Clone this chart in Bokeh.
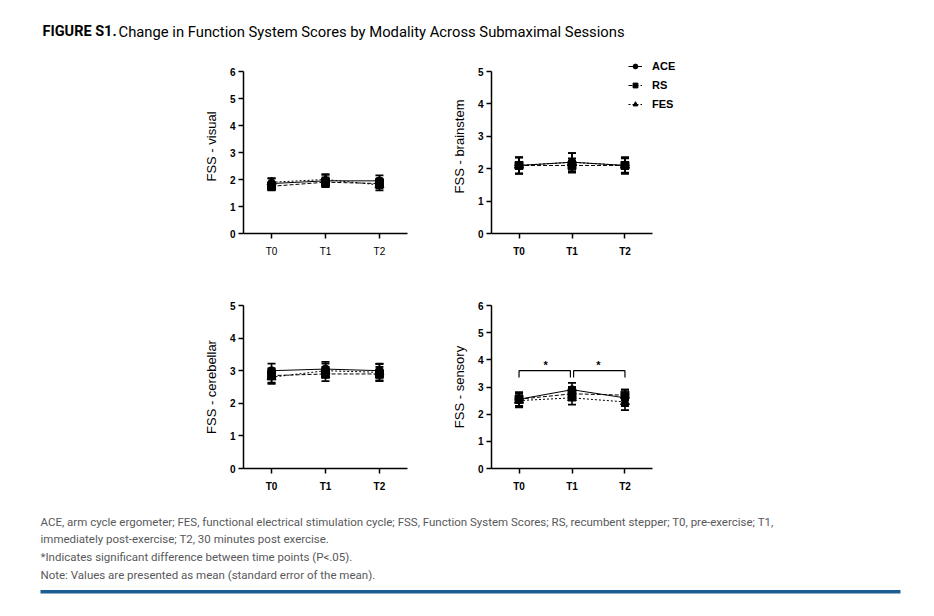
from bokeh.plotting import figure
from bokeh.models import (ColumnDataSource, Whisker, TeeHead, FixedTicker, Legend, LegendItem,
                          Label, BoxAnnotation, Range1d)
from bokeh.layouts import column, row
from bokeh.embed import file_html
from bokeh.resources import INLINE

# ---------------- data ----------------
timepoints = ["T0", "T1", "T2"]
series_names = ["ACE", "RS", "FES"]

visual_mean = {"ACE": [1.85, 1.95, 1.95], "RS": [1.75, 1.90, 1.85], "FES": [1.90, 2.00, 1.80]}
visual_sem = {"ACE": [0.18, 0.22, 0.20], "RS": [0.15, 0.18, 0.18], "FES": [0.15, 0.20, 0.20]}

brainstem_mean = {"ACE": [2.10, 2.20, 2.10], "RS": [2.10, 2.10, 2.10], "FES": [2.10, 2.20, 2.10]}
brainstem_sem = {"ACE": [0.25, 0.28, 0.25], "RS": [0.25, 0.22, 0.22], "FES": [0.25, 0.28, 0.25]}

cerebellar_mean = {"ACE": [3.00, 3.05, 3.00], "RS": [2.85, 2.90, 2.90], "FES": [2.80, 3.00, 2.95]}
cerebellar_sem = {"ACE": [0.22, 0.22, 0.22], "RS": [0.22, 0.22, 0.22], "FES": [0.20, 0.22, 0.25]}

sensory_mean = {"ACE": [2.55, 2.90, 2.60], "RS": [2.55, 2.75, 2.70], "FES": [2.50, 2.60, 2.45]}
sensory_sem = {"ACE": [0.25, 0.25, 0.30], "RS": [0.25, 0.25, 0.20], "FES": [0.25, 0.25, 0.30]}

# significance brackets (sensory panel)
sig_pairs = [(0, 1), (1, 2)]
sig_level = 3.6
sig_tick_low = 3.35
sig_star_level = 3.8

title_bold = "FIGURE S1."
title_rest = "Change in Function System Scores by Modality Across Submaximal Sessions"
footnotes = [
    "ACE, arm cycle ergometer; FES, functional electrical stimulation cycle; FSS, Function System Scores; RS, recumbent stepper; T0, pre-exercise; T1,",
    "immediately post-exercise; T2, 30 minutes post exercise.",
    "*Indicates significant difference between time points (P<.05).",
    "Note: Values are presented as mean (standard error of the mean).",
]

markers = {"ACE": "circle", "RS": "square", "FES": "triangle"}
marker_sizes = {"ACE": 8, "RS": 8, "FES": 9}
dashes = {"ACE": "solid", "RS": "4 2", "FES": "2 2"}

AX_FONT = "Liberation Sans"
TOTAL_W = 926
X0, X1 = -0.52, 2.52


def make_panel(means, sems, ylabel, ymax, width, height, mbl, mbr, mbt, mbb,
               bold_x=True, x_end=X1, y_end=None):
    p = figure(width=width, height=height, output_backend="svg", toolbar_location=None,
               min_border_left=mbl, min_border_right=mbr, min_border_top=mbt, min_border_bottom=mbb,
               x_range=Range1d(X0, x_end), y_range=Range1d(0, y_end if y_end else ymax))
    p.outline_line_color = None
    p.xgrid.visible = False
    p.ygrid.visible = False
    p.background_fill_color = "white"
    p.border_fill_color = "white"
    xs = list(range(len(timepoints)))
    renderers = {}
    for name in series_names:
        m = means[name]
        s = sems[name]
        src = ColumnDataSource(dict(x=xs, y=m, lo=[a - b for a, b in zip(m, s)],
                                    hi=[a + b for a, b in zip(m, s)]))
        w = Whisker(source=src, base="x", upper="hi", lower="lo", dimension="height",
                    line_color="black", line_width=1.6,
                    upper_head=TeeHead(size=8, line_color="black", line_width=1.8),
                    lower_head=TeeHead(size=8, line_color="black", line_width=1.8))
        p.add_layout(w)
        ln = p.line("x", "y", source=src, line_color="black", line_width=1, line_dash=dashes[name])
        sc = p.scatter("x", "y", source=src, marker=markers[name], size=marker_sizes[name],
                       fill_color="black", line_color="black")
        renderers[name] = [ln, sc]
    for ax in (p.xaxis[0], p.yaxis[0]):
        ax.axis_line_width = 1.5
        ax.axis_line_color = "black"
        ax.major_tick_line_width = 1.5
        ax.major_tick_line_color = "black"
        ax.major_tick_out = 5
        ax.major_tick_in = 0
        ax.minor_tick_line_color = None
        ax.major_label_text_font = AX_FONT
        ax.major_label_text_font_size = "10px"
        ax.major_label_text_color = "black"
    p.xaxis.bounds = (X0, X1)
    p.yaxis.bounds = (0, ymax)
    p.xaxis.ticker = FixedTicker(ticks=xs)
    p.xaxis.major_label_overrides = {i: t for i, t in enumerate(timepoints)}
    p.xaxis.major_label_text_font_style = "bold" if bold_x else "normal"
    p.xaxis.major_label_standoff = 7
    p.yaxis.ticker = FixedTicker(ticks=list(range(0, ymax + 1)))
    p.yaxis.major_label_text_font_style = "bold"
    p.yaxis.major_label_standoff = 3
    p.yaxis.axis_label = ylabel
    p.yaxis.axis_label_text_font = AX_FONT
    p.yaxis.axis_label_text_font_size = "13px"
    p.yaxis.axis_label_text_font_style = "normal"
    p.yaxis.axis_label_text_color = "black"
    p.yaxis.axis_label_standoff = 8
    return p, renderers


# ---------------- title ----------------
title_h = 56
tf = figure(width=TOTAL_W, height=title_h, output_backend="svg", toolbar_location=None,
            min_border=0, x_range=Range1d(0, 1), y_range=Range1d(0, 1))
tf.axis.visible = False
tf.grid.visible = False
tf.outline_line_color = None
tf.add_layout(Label(x=42, y=title_h - 31, x_units="screen", y_units="screen", text=title_bold,
                    text_font="Roboto", text_font_style="bold", text_font_size="14.5px",
                    text_color="black", text_baseline="middle"))
tf.add_layout(Label(x=118, y=title_h - 31, x_units="screen", y_units="screen", text=title_rest,
                    text_font="Roboto", text_font_size="14.8px", text_color="black",
                    text_baseline="middle"))

# ---------------- panels ----------------
r1_h = 214
r2_h = 225
left_w = 427
right_w = TOTAL_W - left_w

# top row: frames heightened (axis lines bounded) so the legend above the axis fits
r1_top = 3
r1_frame_h = r1_h - r1_top - 37
r1_scale = r1_frame_h / 162.0
# brainstem panel also widened on the right for the legend
bs_frame_w = 209
bs_x_end = X0 + (X1 - X0) * bs_frame_w / 161.0

p1, _ = make_panel(visual_mean, visual_sem, "FSS - visual", 6, left_w, r1_h,
                   243, 20, r1_top, 37, bold_x=False, y_end=6 * r1_scale)
p2, rends = make_panel(brainstem_mean, brainstem_sem, "FSS - brainstem", 5, right_w, r1_h,
                       64, right_w - 64 - bs_frame_w, r1_top, 37, x_end=bs_x_end,
                       y_end=5 * r1_scale)
p3, _ = make_panel(cerebellar_mean, cerebellar_sem, "FSS - cerebellar", 5, left_w, r2_h,
                   243, 20, 35, 27)
p4, _ = make_panel(sensory_mean, sensory_sem, "FSS - sensory", 6, right_w, r2_h,
                   64, right_w - 64 - 161, 35, 27)

legend = Legend(items=[LegendItem(label=n, renderers=rends[n]) for n in series_names],
                location=(137, 123), orientation="vertical",
                glyph_width=14, glyph_height=12, label_height=12, spacing=7,
                label_standoff=10, padding=0, margin=0,
                background_fill_alpha=0, border_line_color=None,
                label_text_font=AX_FONT, label_text_font_style="bold",
                label_text_font_size="11px", label_text_color="black")
p2.add_layout(legend, "center")

# significance brackets on sensory panel
for a, b in sig_pairs:
    x0 = a + (0.03 if a > 0 else 0.0)
    x1 = b - (0.03 if b < 2 and a == 0 else 0.0)
    p4.line([x0, x0, x1, x1], [sig_tick_low, sig_level, sig_level, sig_tick_low],
            line_color="black", line_width=1.2)
    p4.text([(a + b) / 2], [sig_star_level], text=["*"], text_align="center",
            text_baseline="middle", text_font_size="11px", text_color="black",
            text_font_style="bold")

# ---------------- footnotes ----------------
foot_h = 113
ff = figure(width=TOTAL_W, height=foot_h, output_backend="svg", toolbar_location=None,
            min_border=0, x_range=Range1d(0, 1), y_range=Range1d(0, 1))
ff.axis.visible = False
ff.grid.visible = False
ff.outline_line_color = None
line_y = [26, 43, 61, 79]
for txt, yy in zip(footnotes, line_y):
    ff.add_layout(Label(x=40, y=foot_h - yy, x_units="screen", y_units="screen", text=txt,
                        text_font="Roboto", text_font_size="11.5px", text_color="#58595b",
                        text_baseline="middle"))
ff.add_layout(BoxAnnotation(left=40, right=900, top=foot_h - 94.5, bottom=foot_h - 98,
                            left_units="screen", right_units="screen", top_units="screen",
                            bottom_units="screen", fill_color="#1a5e92", fill_alpha=1,
                            line_color=None))

layout = column(tf, row(p1, p2), row(p3, p4), ff)
open("out.html", "w").write(file_html(layout, INLINE))
